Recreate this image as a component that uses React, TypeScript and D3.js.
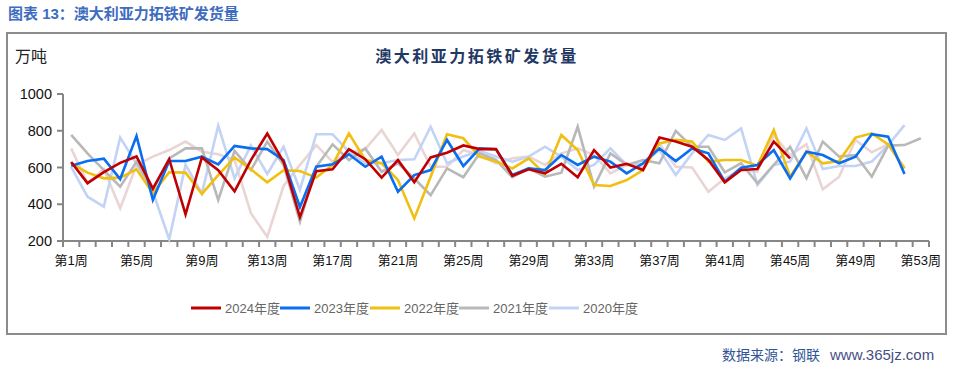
import React from 'react'
import * as d3 from 'd3'

// 澳大利亚力拓铁矿发货量（万吨），按周
const weeks = d3.range(1, 54)
const tickWeeks = [1, 5, 9, 13, 17, 21, 25, 29, 33, 37, 41, 45, 49, 53]
const yTicks = [200, 400, 600, 800, 1000]

const s2024 = [630, 515, 575, 625, 660, 485, 645, 345, 655, 585, 470, 640, 785, 630, 330, 580, 590, 700, 645, 545, 640, 520, 655, 680, 720, 700, 700, 555, 590, 568, 620, 547, 695, 600, 620, 586, 763, 741, 713, 641, 519, 586, 592, 741, 650]
const s2023 = [610, 635, 648, 537, 771, 423, 635, 635, 659, 617, 717, 704, 700, 640, 385, 604, 617, 672, 604, 659, 468, 559, 586, 750, 608, 704, 699, 559, 595, 586, 668, 614, 659, 632, 568, 623, 704, 635, 704, 677, 523, 599, 614, 695, 541, 686, 668, 623, 659, 781, 768, 565]
const s2022 = [623, 572, 541, 545, 590, 460, 574, 572, 456, 559, 655, 590, 519, 585, 581, 545, 614, 786, 641, 623, 532, 323, 550, 781, 759, 659, 632, 595, 650, 563, 777, 695, 505, 499, 532, 586, 731, 750, 741, 632, 641, 641, 610, 804, 550, 686, 623, 635, 763, 786, 726, 595]
const s2021 = [777, 677, 586, 496, 632, 478, 650, 704, 704, 423, 690, 586, 741, 614, 305, 604, 726, 641, 704, 577, 623, 540, 450, 595, 547, 677, 641, 547, 595, 550, 572, 822, 496, 677, 614, 641, 623, 799, 713, 713, 574, 623, 514, 614, 713, 541, 741, 659, 668, 550, 719, 722, 759]
const s2020 = [604, 441, 387, 763, 620, 468, 210, 614, 459, 828, 541, 720, 565, 713, 478, 781, 781, 686, 623, 623, 641, 645, 822, 623, 660, 690, 660, 632, 659, 713, 659, 586, 614, 704, 614, 620, 695, 559, 677, 777, 750, 813, 505, 614, 632, 813, 592, 608, 608, 632, 722, 831]
// 图中另有一条浅粉色线，图例未列出
const sPink = [704, 514, 592, 378, 614, 659, 695, 741, 686, 672, 641, 351, 223, 500, 614, 722, 630, 680, 700, 804, 668, 785, 604, 604, 695, 668, 623, 650, 659, 614, 677, 704, 668, 568, 614, 604, 731, 604, 600, 468, 541, 586, 577, 777, 668, 726, 481, 550, 750, 683, 726, 599]

const seriesNames = ['2024年度', '2023年度', '2022年度', '2021年度', '2020年度']
const seriesColors = ['#c00000', '#0a6ef0', '#f0c010', '#b8b8b8', '#c3d3f5']

const cjk = '"Noto Sans CJK SC", sans-serif'
const mixed = '"Liberation Sans", "Noto Sans CJK SC", sans-serif'

export default function App() {
  const width = 953
  const height = 370

  const x = d3.scaleBand<number>().domain(weeks).range([63, 929]).padding(0)
  const y = d3.scaleLinear().domain([200, 1000]).range([241, 94])
  const cx = (w: number) => (x(w) as number) + x.bandwidth() / 2

  const line = d3
    .line<number>()
    .x((_, i) => cx(weeks[i]))
    .y((d) => y(d))

  // 绘制顺序：粉色最底，2024 最上
  const drawOrder = [
    { data: sPink, color: '#ead5d5' },
    { data: s2020, color: seriesColors[4] },
    { data: s2021, color: seriesColors[3] },
    { data: s2022, color: seriesColors[2] },
    { data: s2023, color: seriesColors[1] },
    { data: s2024, color: seriesColors[0] },
  ]

  const boundaries = d3.range(0, 54).map((i) => 63 + i * x.bandwidth())

  // 图例位置
  const legendX = [191, 280, 370, 459, 549]

  return (
    <svg width={width} height={height} style={{ position: 'absolute', left: 0, top: 0, background: '#fff' }}>
      <text x={8} y={19} fontFamily={mixed} fontSize={15} fontWeight="bold" fill="#3d6cc0">
        图表 13：澳大利亚力拓铁矿发货量
      </text>

      <rect x={7} y={33} width={939} height={301} fill="none" stroke="#8c8c8c" strokeWidth={2} />

      <text x={15} y={62} fontFamily={cjk} fontSize={16} fill="#222">万吨</text>
      <text x={477} y={62} textAnchor="middle" fontFamily={cjk} fontSize={16} fontWeight="bold" fill="#1f3864" letterSpacing={2.5}>
        澳大利亚力拓铁矿发货量
      </text>

      {/* y 轴 */}
      <line x1={63} x2={63} y1={y(1000)} y2={y(200) + 1} stroke="#868686" strokeWidth={2} />
      {yTicks.map((t) => (
        <g key={t}>
          <line x1={57} x2={63} y1={y(t)} y2={y(t)} stroke="#868686" strokeWidth={2} />
          <text x={52} y={y(t) + 5} textAnchor="end" fontFamily={mixed} fontSize={14.5} fill="#111">{t}</text>
        </g>
      ))}

      {/* x 轴 */}
      <line x1={63} x2={929} y1={y(200)} y2={y(200)} stroke="#868686" strokeWidth={2} />
      {boundaries.map((bx, i) => (
        <line key={i} x1={bx} x2={bx} y1={y(200)} y2={y(200) + 6} stroke="#868686" strokeWidth={2} />
      ))}
      {tickWeeks.map((w) => (
        <text key={w} x={cx(w)} y={265} textAnchor="middle" fontFamily={mixed} fontSize={13} fill="#111">
          第{w}周
        </text>
      ))}

      {/* 折线 */}
      {drawOrder.map((s, i) => (
        <path key={i} d={line(s.data) || ''} fill="none" stroke={s.color} strokeWidth={2.6} strokeLinejoin="miter" />
      ))}

      {/* 图例 */}
      {seriesNames.map((name, i) => (
        <g key={name}>
          <line x1={legendX[i]} x2={legendX[i] + 30} y1={308} y2={308} stroke={seriesColors[i]} strokeWidth={3} />
          <text x={legendX[i] + 34} y={313} fontFamily={mixed} fontSize={13} fill="#666">{name}</text>
        </g>
      ))}

      {/* 数据来源 */}
      <text x={722} y={360} fontFamily={cjk} fontSize={14} fill="#2f5597">数据来源：钢联</text>
      <text x={830} y={360} fontFamily={mixed} fontSize={15} fill="#1f2f6f" opacity={0.85}>www.365jz.com</text>
    </svg>
  )
}
